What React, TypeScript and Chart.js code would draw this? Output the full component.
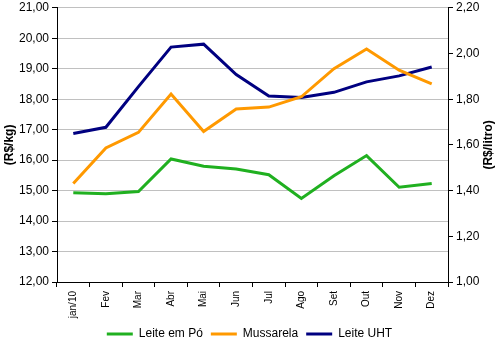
import React, { useEffect, useRef } from "react";
import { Chart, registerables } from "chart.js";

Chart.register(...registerables);

const months = ["jan/10", "Fev", "Mar", "Abr", "Mai", "Jun", "Jul", "Ago", "Set", "Out", "Nov", "Dez"];
const leiteEmPo = [14.93, 14.9, 14.97, 16.04, 15.8, 15.71, 15.52, 14.74, 15.49, 16.15, 15.11, 15.23];
const mussarela = [15.23, 16.4, 16.91, 18.17, 16.94, 17.68, 17.74, 18.08, 19.0, 19.65, 18.95, 18.5];
const leiteUHT = [1.65, 1.677, 1.855, 2.028, 2.041, 1.908, 1.814, 1.807, 1.83, 1.876, 1.902, 1.941];
const leftTitle = "(R$/kg)";
const rightTitle = "(R$/litro)";

const fmt = (v: number | string) => Number(v).toFixed(2).replace(".", ",");
const font = "'Liberation Sans', Arial, sans-serif";

const rightTitlePlugin = {
  id: "rightTitle",
  afterDraw(chart: any) {
    const s = chart.scales.y1;
    const ctx = chart.ctx;
    ctx.save();
    ctx.fillStyle = "#000";
    ctx.font = `bold 12px ${font}`;
    ctx.textAlign = "center";
    ctx.textBaseline = "middle";
    ctx.translate(s.right - 10, (chart.chartArea.top + chart.chartArea.bottom) / 2);
    ctx.rotate(-Math.PI / 2);
    ctx.fillText(rightTitle, 0, 0);
    ctx.restore();
  },
};

export default function App() {
  const ref = useRef<HTMLCanvasElement>(null);
  useEffect(() => {
    if (!ref.current) return;
    const chart = new Chart(ref.current, {
      type: "line",
      data: {
        labels: months,
        datasets: [
          { label: "Leite em Pó", data: leiteEmPo, borderColor: "#20b020", backgroundColor: "#20b020", borderWidth: 3, pointRadius: 0, yAxisID: "y", tension: 0 },
          { label: "Mussarela", data: mussarela, borderColor: "#ff9900", backgroundColor: "#ff9900", borderWidth: 3, pointRadius: 0, yAxisID: "y", tension: 0 },
          { label: "Leite UHT", data: leiteUHT, borderColor: "#000080", backgroundColor: "#000080", borderWidth: 3, pointRadius: 0, yAxisID: "y1", tension: 0 },
        ],
      },
      options: {
        responsive: false,
        animation: false,
        layout: { padding: { top: 0, bottom: 2, left: 0, right: 0 } },
        plugins: {
          legend: {
            position: "bottom",
            labels: {
              usePointStyle: true,
              pointStyle: "line",
              pointStyleWidth: 26,
              boxHeight: 3,
              color: "#000",
              font: { family: font, size: 12 },
              padding: 8,
            },
          },
          tooltip: { enabled: false },
        },
        scales: {
          x: {
            type: "category",
            offset: true,
            grid: { offset: true, drawOnChartArea: false, drawTicks: true, tickLength: 5, tickColor: "#000", color: "#000" },
            border: { color: "#000", width: 1 },
            ticks: { minRotation: 90, maxRotation: 90, autoSkip: false, color: "#000", font: { family: font, size: 10 }, padding: 4 },
            afterFit: (s: any) => { s.height = 38; },
          },
          y: {
            position: "left",
            min: 12,
            max: 21,
            ticks: { stepSize: 1, callback: (v: any) => fmt(v), color: "#000", font: { family: font, size: 12, lineHeight: 0.8 }, padding: 3 },
            grid: { color: "#c0c0c0", tickColor: "#000", tickLength: 5, lineWidth: 1 },
            border: { color: "#000", width: 1 },
            title: { display: true, text: leftTitle, color: "#000", font: { family: font, size: 12, weight: "bold" }, padding: 2 },
            afterFit: (s: any) => { s.width = 57; },
          },
          y1: {
            position: "right",
            min: 1.0,
            max: 2.2,
            ticks: { stepSize: 0.2, callback: (v: any) => fmt(v), color: "#000", font: { family: font, size: 12, lineHeight: 0.8 }, padding: 3 },
            grid: { drawOnChartArea: false, tickColor: "#000", tickLength: 5 },
            border: { color: "#000", width: 1 },
            afterFit: (s: any) => { s.width = 51; },
          },
        },
      } as any,
      plugins: [rightTitlePlugin],
    });
    return () => chart.destroy();
  }, []);
  return (
    <div style={{ position: "absolute", left: 0, top: 0, width: 499, height: 352, background: "#fff" }}>
      <canvas ref={ref} width={499} height={352} />
    </div>
  );
}
